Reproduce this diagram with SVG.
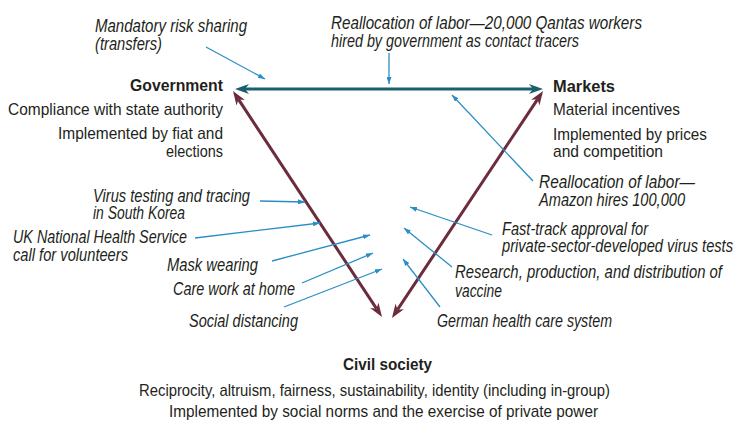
<svg xmlns="http://www.w3.org/2000/svg" width="737" height="422" viewBox="0 0 737 422">
<style>
text{font-family:"Liberation Sans Narrow","Liberation Sans",Arial,sans-serif;fill:#231f20;}
.n{font-size:17px;}
.b{font-size:17px;font-weight:bold;}
.i{font-size:18.5px;font-style:italic;}
.thick{stroke-width:3;fill:none;}
.teal{stroke:#1b5f6e;}
.maroon{stroke:#6b2c3c;}
.blue{stroke:#2a8ec6;stroke-width:1.3;fill:none;marker-end:url(#mb);}
</style>
<defs>
<marker id="mt" viewBox="0 0 14 10" markerUnits="userSpaceOnUse" markerWidth="14" markerHeight="10" refX="4" refY="5" orient="auto-start-reverse"><path d="M0,0 L14,5 L0,10 L4,5 z" fill="#1b5f6e"/></marker>
<marker id="mm" viewBox="0 0 14 10" markerUnits="userSpaceOnUse" markerWidth="14" markerHeight="10" refX="4" refY="5" orient="auto-start-reverse"><path d="M0,0 L14,5 L0,10 L4,5 z" fill="#6b2c3c"/></marker>
<marker id="mb" viewBox="0 0 7 5" markerUnits="userSpaceOnUse" markerWidth="7" markerHeight="5" refX="7" refY="2.5" orient="auto"><path d="M0,0 L7,2.5 L0,5 z" fill="#2a8ec6"/></marker>
</defs>
<g id="connectors">
<line class="thick teal" x1="245" y1="89" x2="533" y2="89" marker-start="url(#mt)" marker-end="url(#mt)"/>
<line class="thick maroon" x1="238.5" y1="99.4" x2="376.5" y2="308.7" marker-start="url(#mm)" marker-end="url(#mm)"/>
<line class="thick maroon" x1="537.5" y1="99.3" x2="397.5" y2="309.7" marker-start="url(#mm)" marker-end="url(#mm)"/>
<line class="blue" x1="206" y1="47" x2="265" y2="79"/>
<line class="blue" x1="389" y1="53" x2="389" y2="84"/>
<line class="blue" x1="533" y1="181" x2="452" y2="95"/>
<line class="blue" x1="260" y1="201" x2="305" y2="202"/>
<line class="blue" x1="195" y1="238" x2="320" y2="223"/>
<line class="blue" x1="272" y1="261" x2="370" y2="235"/>
<line class="blue" x1="302" y1="283" x2="373" y2="253"/>
<line class="blue" x1="284" y1="307" x2="382" y2="269"/>
<line class="blue" x1="492" y1="235" x2="410" y2="207"/>
<line class="blue" x1="452" y1="267" x2="404" y2="228"/>
<line class="blue" x1="440" y1="307" x2="403" y2="259"/>
</g>
<g id="government">
<text class="b" x="130" y="91" textLength="93" lengthAdjust="spacingAndGlyphs">Government</text>
<text class="n" x="8" y="115" textLength="215" lengthAdjust="spacingAndGlyphs">Compliance with state authority</text>
<text class="n" x="58" y="139" textLength="165" lengthAdjust="spacingAndGlyphs">Implemented by fiat and</text>
<text class="n" x="166" y="157" textLength="57" lengthAdjust="spacingAndGlyphs">elections</text>
</g>
<g id="markets">
<text class="b" x="553" y="92" textLength="62" lengthAdjust="spacingAndGlyphs">Markets</text>
<text class="n" x="553" y="115" textLength="127" lengthAdjust="spacingAndGlyphs">Material incentives</text>
<text class="n" x="553" y="140" textLength="154" lengthAdjust="spacingAndGlyphs">Implemented by prices</text>
<text class="n" x="553" y="157" textLength="110" lengthAdjust="spacingAndGlyphs">and competition</text>
</g>
<g id="civil-society">
<text class="b" x="343" y="370" textLength="89" lengthAdjust="spacingAndGlyphs">Civil society</text>
<text class="n" x="139" y="396" textLength="471" lengthAdjust="spacingAndGlyphs">Reciprocity, altruism, fairness, sustainability, identity (including in-group)</text>
<text class="n" x="169" y="417" textLength="429" lengthAdjust="spacingAndGlyphs">Implemented by social norms and the exercise of private power</text>
</g>
<g id="label-risk-sharing">
<text class="i" x="95" y="32" textLength="152" lengthAdjust="spacingAndGlyphs">Mandatory risk sharing</text>
<text class="i" x="95" y="50" textLength="67" lengthAdjust="spacingAndGlyphs">(transfers)</text>
</g>
<g id="label-qantas">
<text class="i" x="331" y="29" textLength="311" lengthAdjust="spacingAndGlyphs">Reallocation of labor—20,000 Qantas workers</text>
<text class="i" x="331" y="47" textLength="248" lengthAdjust="spacingAndGlyphs">hired by government as contact tracers</text>
</g>
<g id="label-amazon">
<text class="i" x="539" y="188" textLength="156" lengthAdjust="spacingAndGlyphs">Reallocation of labor—</text>
<text class="i" x="539" y="206" textLength="146" lengthAdjust="spacingAndGlyphs">Amazon hires 100,000</text>
</g>
<g id="label-korea">
<text class="i" x="93" y="202" textLength="157" lengthAdjust="spacingAndGlyphs">Virus testing and tracing</text>
<text class="i" x="93" y="219" textLength="92" lengthAdjust="spacingAndGlyphs">in South Korea</text>
</g>
<g id="label-nhs">
<text class="i" x="13" y="243" textLength="174" lengthAdjust="spacingAndGlyphs">UK National Health Service</text>
<text class="i" x="13" y="261" textLength="115" lengthAdjust="spacingAndGlyphs">call for volunteers</text>
</g>
<g id="label-mask">
<text class="i" x="167" y="271" textLength="91" lengthAdjust="spacingAndGlyphs">Mask wearing</text>
</g>
<g id="label-care">
<text class="i" x="173" y="295" textLength="122" lengthAdjust="spacingAndGlyphs">Care work at home</text>
</g>
<g id="label-distancing">
<text class="i" x="189" y="327" textLength="109" lengthAdjust="spacingAndGlyphs">Social distancing</text>
</g>
<g id="label-fasttrack">
<text class="i" x="502" y="235" textLength="146" lengthAdjust="spacingAndGlyphs">Fast-track approval for</text>
<text class="i" x="502" y="252" textLength="231" lengthAdjust="spacingAndGlyphs">private-sector-developed virus tests</text>
</g>
<g id="label-vaccine">
<text class="i" x="455" y="278" textLength="267" lengthAdjust="spacingAndGlyphs">Research, production, and distribution of</text>
<text class="i" x="455" y="297" textLength="47" lengthAdjust="spacingAndGlyphs">vaccine</text>
</g>
<g id="label-german">
<text class="i" x="437" y="327" textLength="175" lengthAdjust="spacingAndGlyphs">German health care system</text>
</g>
</svg>
